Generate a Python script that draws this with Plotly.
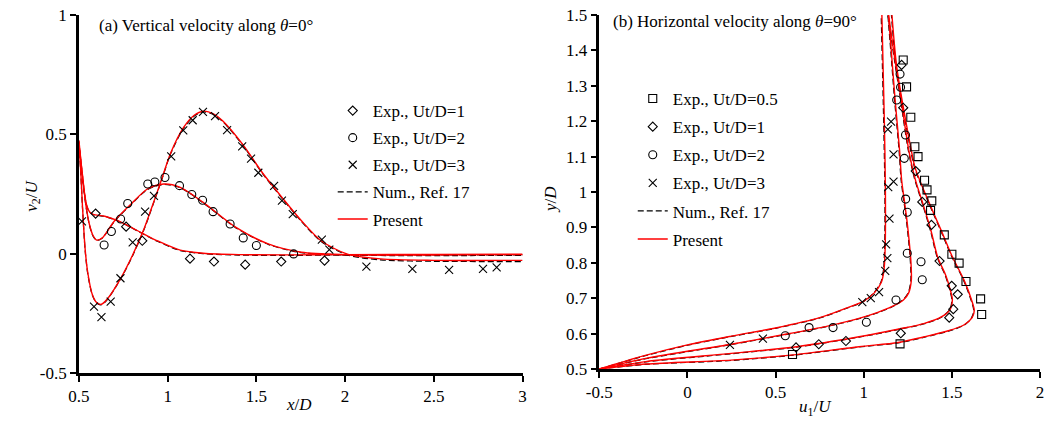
import plotly.graph_objects as go

FONT = "'Liberation Serif', 'Times New Roman', serif"

# ---------------- Panel (a): vertical velocity along theta=0 ----------------
a_exp1_x = [0.594, 0.766, 0.857, 1.126, 1.261, 1.437, 1.640, 1.884]
a_exp1_y = [0.168, 0.113, 0.054, -0.021, -0.033, -0.046, -0.033, -0.029]

a_exp2_x = [0.642, 0.683, 0.735, 0.775, 0.888, 0.928, 0.985, 1.067, 1.136, 1.197, 1.256, 1.352, 1.426, 1.500, 1.710]
a_exp2_y = [0.036, 0.093, 0.145, 0.210, 0.292, 0.300, 0.319, 0.285, 0.248, 0.224, 0.176, 0.124, 0.066, 0.034, -0.001]

a_exp3_x = [0.517, 0.585, 0.627, 0.679, 0.734, 0.803, 0.873, 0.923, 1.020, 1.088, 1.141, 1.199, 1.267, 1.335,
            1.420, 1.470, 1.511, 1.600, 1.644, 1.705, 1.869, 1.911, 2.120, 2.379, 2.586, 2.777, 2.854]
a_exp3_y = [0.135, -0.222, -0.266, -0.201, -0.103, 0.047, 0.176, 0.242, 0.408, 0.517, 0.559, 0.594, 0.576, 0.518,
            0.450, 0.398, 0.339, 0.284, 0.222, 0.166, 0.059, 0.017, -0.054, -0.064, -0.068, -0.064, -0.057]

# Present (red) curves
a_pre1_x = [0.5, 0.515, 0.53, 0.545, 0.56, 0.58, 0.646, 0.72, 0.831, 0.942, 1.071, 1.2, 1.4, 1.7, 2.0, 2.5, 3.0]
a_pre1_y = [0.475, 0.36, 0.26, 0.20, 0.175, 0.165, 0.157, 0.138, 0.096, 0.054, 0.015, 0.002, -0.004, -0.005, -0.004, -0.003, -0.002]

a_pre2_x = [0.5, 0.52, 0.54, 0.56, 0.58, 0.6, 0.63, 0.701, 0.794, 0.886, 0.978, 1.071, 1.2, 1.385, 1.57, 1.754, 2.013, 2.3, 2.6, 3.0]
a_pre2_y = [0.46, 0.33, 0.20, 0.12, 0.075, 0.057, 0.065, 0.138, 0.208, 0.271, 0.292, 0.278, 0.215, 0.110, 0.040, 0.006, -0.004, -0.006, -0.005, -0.004]

a_pre3_x = [0.5, 0.51, 0.52, 0.535, 0.55, 0.575, 0.6, 0.627, 0.66, 0.738, 0.80, 0.87, 0.923, 0.97, 1.016, 1.089, 1.15,
            1.2, 1.26, 1.311, 1.422, 1.533, 1.644, 1.754, 1.865, 2.013, 2.2, 2.5, 3.0]
a_pre3_y = [0.47, 0.35, 0.20, 0.02, -0.08, -0.17, -0.205, -0.212, -0.19, -0.10, -0.01, 0.11, 0.22, 0.32, 0.42, 0.528, 0.58,
            0.597, 0.585, 0.556, 0.459, 0.340, 0.236, 0.138, 0.054, -0.002, -0.022, -0.028, -0.028]

# Num., Ref. 17 (dashed) curves
a_num1_x = [0.5, 0.515, 0.53, 0.545, 0.56, 0.58, 0.646, 0.72, 0.831, 0.942, 1.071, 1.2, 1.4, 1.7, 2.0, 2.5, 3.0]
a_num1_y = [0.47, 0.35, 0.255, 0.198, 0.174, 0.164, 0.156, 0.137, 0.095, 0.052, 0.013, 0.0, -0.006, -0.007, -0.006, -0.005, -0.005]

a_num2_x = [0.5, 0.52, 0.54, 0.56, 0.58, 0.6, 0.63, 0.701, 0.794, 0.886, 0.978, 1.071, 1.2, 1.385, 1.57, 1.754, 2.013, 2.3, 2.6, 3.0]
a_num2_y = [0.455, 0.325, 0.198, 0.118, 0.073, 0.056, 0.064, 0.136, 0.206, 0.269, 0.290, 0.276, 0.213, 0.108, 0.038, 0.004, -0.006, -0.008, -0.008, -0.007]

a_num3_x = [0.5, 0.51, 0.52, 0.535, 0.55, 0.575, 0.6, 0.627, 0.66, 0.738, 0.80, 0.87, 0.923, 0.97, 1.016, 1.089, 1.15,
            1.2, 1.26, 1.311, 1.422, 1.533, 1.644, 1.754, 1.865, 2.013, 2.2, 2.5, 3.0]
a_num3_y = [0.465, 0.345, 0.195, 0.015, -0.085, -0.172, -0.207, -0.214, -0.192, -0.102, -0.013, 0.107, 0.217, 0.317, 0.417, 0.525, 0.577,
            0.594, 0.582, 0.553, 0.456, 0.337, 0.233, 0.135, 0.051, -0.005, -0.026, -0.032, -0.033]

# ---------------- Panel (b): horizontal velocity along theta=90 ----------------
b_exp05_x = [1.224, 1.243, 1.267, 1.290, 1.308, 1.345, 1.359, 1.386, 1.379, 1.457, 1.500, 1.541, 1.580, 1.663, 1.669, 1.206, 0.596]
b_exp05_y = [1.373, 1.297, 1.211, 1.128, 1.100, 1.033, 1.006, 0.975, 0.948, 0.879, 0.824, 0.799, 0.747, 0.698, 0.654, 0.571, 0.541]

b_exp1_x = [1.215, 1.224, 1.295, 1.332, 1.384, 1.430, 1.499, 1.533, 1.508, 1.485, 1.210, 0.899, 0.745, 0.616]
b_exp1_y = [1.359, 1.238, 1.059, 0.972, 0.907, 0.805, 0.735, 0.711, 0.669, 0.645, 0.601, 0.579, 0.570, 0.561]

b_exp2_x = [1.206, 1.209, 1.187, 1.237, 1.230, 1.238, 1.247, 1.247, 1.325, 1.332, 1.183, 1.015, 0.826, 0.690, 0.555]
b_exp2_y = [1.333, 1.296, 1.260, 1.161, 1.095, 0.980, 0.943, 0.827, 0.803, 0.752, 0.695, 0.632, 0.617, 0.617, 0.594]

b_exp3_x = [1.155, 1.137, 1.169, 1.169, 1.139, 1.146, 1.127, 1.134, 1.122, 1.087, 1.040, 0.992, 0.428, 0.241]
b_exp3_y = [1.199, 1.177, 1.106, 1.029, 1.014, 0.925, 0.852, 0.813, 0.777, 0.717, 0.700, 0.689, 0.586, 0.568]

# Present (red) curves
b_pre05_x = [-0.5, -0.236, 0.248, 0.6, 0.973, 1.196, 1.345, 1.48, 1.57, 1.615, 1.627, 1.615, 1.569, 1.50, 1.438, 1.375, 1.317, 1.29, 1.234, 1.187, 1.16]
b_pre05_y = [0.5, 0.514, 0.525, 0.540, 0.563, 0.575, 0.591, 0.608, 0.625, 0.645, 0.665, 0.69, 0.751, 0.82, 0.893, 0.965, 1.034, 1.071, 1.213, 1.354, 1.5]

b_pre1_x = [-0.5, -0.236, 0.248, 0.620, 0.973, 1.2, 1.345, 1.44, 1.49, 1.503, 1.49, 1.465, 1.42, 1.382, 1.34, 1.29, 1.255, 1.212, 1.169, 1.141]
b_pre1_y = [0.5, 0.521, 0.544, 0.563, 0.591, 0.613, 0.629, 0.647, 0.668, 0.695, 0.725, 0.765, 0.815, 0.89, 0.96, 1.04, 1.12, 1.26, 1.401, 1.5]

b_pre2_x = [-0.5, -0.236, 0.248, 0.556, 0.8, 0.973, 1.08, 1.159, 1.225, 1.255, 1.27, 1.268, 1.258, 1.245, 1.230, 1.215, 1.203, 1.178, 1.156, 1.14]
b_pre2_y = [0.5, 0.530, 0.570, 0.598, 0.622, 0.643, 0.66, 0.676, 0.695, 0.715, 0.75, 0.80, 0.86, 0.92, 0.977, 1.034, 1.12, 1.26, 1.401, 1.5]

b_pre3_x = [-0.5, -0.25, 0.0, 0.25, 0.5, 0.75, 0.9, 1.0, 1.06, 1.1, 1.115, 1.122, 1.123, 1.117, 1.103]
b_pre3_y = [0.5, 0.537, 0.568, 0.593, 0.616, 0.645, 0.672, 0.692, 0.715, 0.745, 0.78, 0.85, 1.0, 1.2, 1.5]

# Num., Ref. 17 (dashed) curves
b_num05_x = [-0.5, -0.236, 0.248, 0.6, 0.973, 1.196, 1.345, 1.48, 1.57, 1.612, 1.624, 1.612, 1.566, 1.497, 1.435, 1.372, 1.314, 1.287, 1.231, 1.184, 1.157]
b_num05_y = [0.5, 0.513, 0.524, 0.539, 0.562, 0.574, 0.590, 0.607, 0.624, 0.645, 0.665, 0.69, 0.751, 0.82, 0.893, 0.965, 1.034, 1.071, 1.213, 1.354, 1.5]

b_num1_x = [-0.5, -0.236, 0.248, 0.620, 0.973, 1.2, 1.345, 1.44, 1.488, 1.500, 1.487, 1.462, 1.417, 1.379, 1.337, 1.287, 1.252, 1.209, 1.166, 1.138]
b_num1_y = [0.5, 0.520, 0.543, 0.562, 0.590, 0.612, 0.628, 0.646, 0.668, 0.695, 0.725, 0.765, 0.815, 0.89, 0.96, 1.04, 1.12, 1.26, 1.401, 1.5]

b_num2_x = [-0.5, -0.236, 0.248, 0.556, 0.8, 0.973, 1.08, 1.159, 1.222, 1.252, 1.267, 1.265, 1.255, 1.242, 1.227, 1.212, 1.200, 1.175, 1.153, 1.137]
b_num2_y = [0.5, 0.529, 0.569, 0.597, 0.621, 0.642, 0.659, 0.675, 0.695, 0.715, 0.75, 0.80, 0.86, 0.92, 0.977, 1.034, 1.12, 1.26, 1.401, 1.5]

b_num3_x = [-0.5, -0.25, 0.0, 0.25, 0.5, 0.75, 0.9, 1.0, 1.057, 1.097, 1.112, 1.119, 1.120, 1.113, 1.099]
b_num3_y = [0.5, 0.536, 0.567, 0.592, 0.615, 0.644, 0.671, 0.691, 0.715, 0.745, 0.78, 0.85, 1.0, 1.2, 1.5]

# Tick labels
a_xticks = [0.5, 1, 1.5, 2, 2.5, 3]
a_xtext = ["0.5", "1", "1.5", "2", "2.5", "3"]
a_yticks = [-0.5, 0, 0.5, 1]
a_ytext = ["-0.5", "0", "0.5", "1"]
b_xticks = [-0.5, 0, 0.5, 1, 1.5, 2]
b_xtext = ["-0.5", "0", "0.5", "1", "1.5", "2"]
b_yticks = [0.5, 0.6, 0.7, 0.8, 0.9, 1.0, 1.1, 1.2, 1.3, 1.4, 1.5]
b_ytext = ["0.5", "0.6", "0.7", "0.8", "0.9", "1", "1.1", "1.2", "1.3", "1.4", "1.5"]

fig = go.Figure()

RED = "#ff0000"
BLK = "#000000"
DASH = "6px,3px"


def add_line(x, y, color, dash, width, name, show, legend, xa, ya, rank):
    fig.add_trace(go.Scatter(
        x=x, y=y, mode="lines", name=name, showlegend=show, legend=legend,
        legendgroup=legend + name, legendrank=rank,
        line=dict(color=color, dash=dash, width=width, shape="spline", smoothing=0.8),
        xaxis=xa, yaxis=ya, hoverinfo="skip"))


def add_marks(x, y, symbol, size, name, legend, xa, ya, rank):
    fig.add_trace(go.Scatter(
        x=x, y=y, mode="markers", name=name, legend=legend,
        legendgroup=legend + name, legendrank=rank,
        marker=dict(symbol=symbol, size=size, color=BLK,
                    line=dict(color=BLK, width=1.1)),
        xaxis=xa, yaxis=ya))


# Panel (a)
for i, (x, y) in enumerate([(a_num1_x, a_num1_y), (a_num2_x, a_num2_y), (a_num3_x, a_num3_y)]):
    add_line(x, y, BLK, DASH, 1.2, "Num., Ref. 17", i == 0, "legend", "x", "y", 4)
for i, (x, y) in enumerate([(a_pre1_x, a_pre1_y), (a_pre2_x, a_pre2_y), (a_pre3_x, a_pre3_y)]):
    add_line(x, y, RED, "solid", 1.4, "Present", i == 0, "legend", "x", "y", 5)
add_marks(a_exp1_x, a_exp1_y, "diamond-open", 7, "Exp., Ut/D=1", "legend", "x", "y", 1)
add_marks(a_exp2_x, a_exp2_y, "circle-open", 8, "Exp., Ut/D=2", "legend", "x", "y", 2)
add_marks(a_exp3_x, a_exp3_y, "x-thin-open", 8, "Exp., Ut/D=3", "legend", "x", "y", 3)

# Panel (b)
for i, (x, y) in enumerate([(b_num05_x, b_num05_y), (b_num1_x, b_num1_y), (b_num2_x, b_num2_y), (b_num3_x, b_num3_y)]):
    add_line(x, y, BLK, DASH, 1.2, "Num., Ref. 17", i == 0, "legend2", "x2", "y2", 5)
for i, (x, y) in enumerate([(b_pre05_x, b_pre05_y), (b_pre1_x, b_pre1_y), (b_pre2_x, b_pre2_y), (b_pre3_x, b_pre3_y)]):
    add_line(x, y, RED, "solid", 1.4, "Present", i == 0, "legend2", "x2", "y2", 6)
add_marks(b_exp05_x, b_exp05_y, "square-open", 8, "Exp., Ut/D=0.5", "legend2", "x2", "y2", 1)
add_marks(b_exp1_x, b_exp1_y, "diamond-open", 7, "Exp., Ut/D=1", "legend2", "x2", "y2", 2)
add_marks(b_exp2_x, b_exp2_y, "circle-open", 8, "Exp., Ut/D=2", "legend2", "x2", "y2", 3)
add_marks(b_exp3_x, b_exp3_y, "x-thin-open", 8, "Exp., Ut/D=3", "legend2", "x2", "y2", 4)

W, H = 1045, 423
MT, MB = 15, 50
PH = H - MT - MB

axis_common = dict(showgrid=False, zeroline=False, showline=True, linecolor=BLK, linewidth=2.5,
                   ticks="outside", ticklen=6, tickwidth=1.5, tickcolor=BLK,
                   tickfont=dict(family=FONT, size=17, color=BLK), mirror=False)

fig.update_layout(
    width=W, height=H, autosize=False,
    margin=dict(l=0, r=0, t=MT, b=MB, pad=0),
    paper_bgcolor="white", plot_bgcolor="white",
    font=dict(family=FONT, size=16, color=BLK),
    xaxis=dict(domain=[67 / W, 518 / W], range=[0.5, 3], tickvals=a_xticks, ticktext=a_xtext,
               anchor="y", **axis_common),
    yaxis=dict(domain=[0, 1], range=[-0.5, 1], tickvals=a_yticks, ticktext=a_ytext,
               anchor="x", **axis_common),
    xaxis2=dict(domain=[596 / W, 1044 / W], range=[-0.5, 2], tickvals=b_xticks, ticktext=b_xtext,
                anchor="y2", **axis_common),
    yaxis2=dict(domain=[4 / PH, 1], range=[0.5, 1.5], tickvals=b_yticks, ticktext=b_ytext,
                anchor="x2", **axis_common),
    legend=dict(x=325 / W, xanchor="left", y=(373 - 93) / PH, yanchor="top",
                bgcolor="rgba(0,0,0,0)", borderwidth=0, tracegroupgap=2,
                font=dict(family=FONT, size=17, color=BLK), traceorder="grouped"),
    legend2=dict(x=630 / W, xanchor="left", y=(373 - 81) / PH, yanchor="top",
                 bgcolor="rgba(0,0,0,0)", borderwidth=0, tracegroupgap=3,
                 font=dict(family=FONT, size=17, color=BLK), traceorder="grouped"),
)

ann = [
    dict(text="(a) Vertical velocity along <i>θ</i>=0°", x=85 / W, y=(373 - 25) / PH, xanchor="left", yanchor="middle"),
    dict(text="(b) Horizontal velocity along <i>θ</i>=90°", x=608 / W, y=(373 - 22) / PH, xanchor="left", yanchor="middle"),
    dict(text="<i>x</i>/<i>D</i>", x=291 / W, y=(373 - 405) / PH, xanchor="center", yanchor="middle"),
    dict(text="<i>u</i><sub>1</sub>/<i>U</i>", x=816 / W, y=(373 - 408) / PH, xanchor="center", yanchor="middle"),
    dict(text="<i>v</i><sub>2</sub>/<i>U</i>", x=20 / W, y=(373 - 196) / PH, xanchor="center", yanchor="middle", textangle=-90),
    dict(text="<i>y</i>/<i>D</i>", x=547 / W, y=(373 - 200) / PH, xanchor="center", yanchor="middle", textangle=-90),
]
for a in ann:
    fig.add_annotation(xref="paper", yref="paper", showarrow=False,
                       font=dict(family=FONT, size=17, color=BLK), **a)

fig.write_html("out.html")
